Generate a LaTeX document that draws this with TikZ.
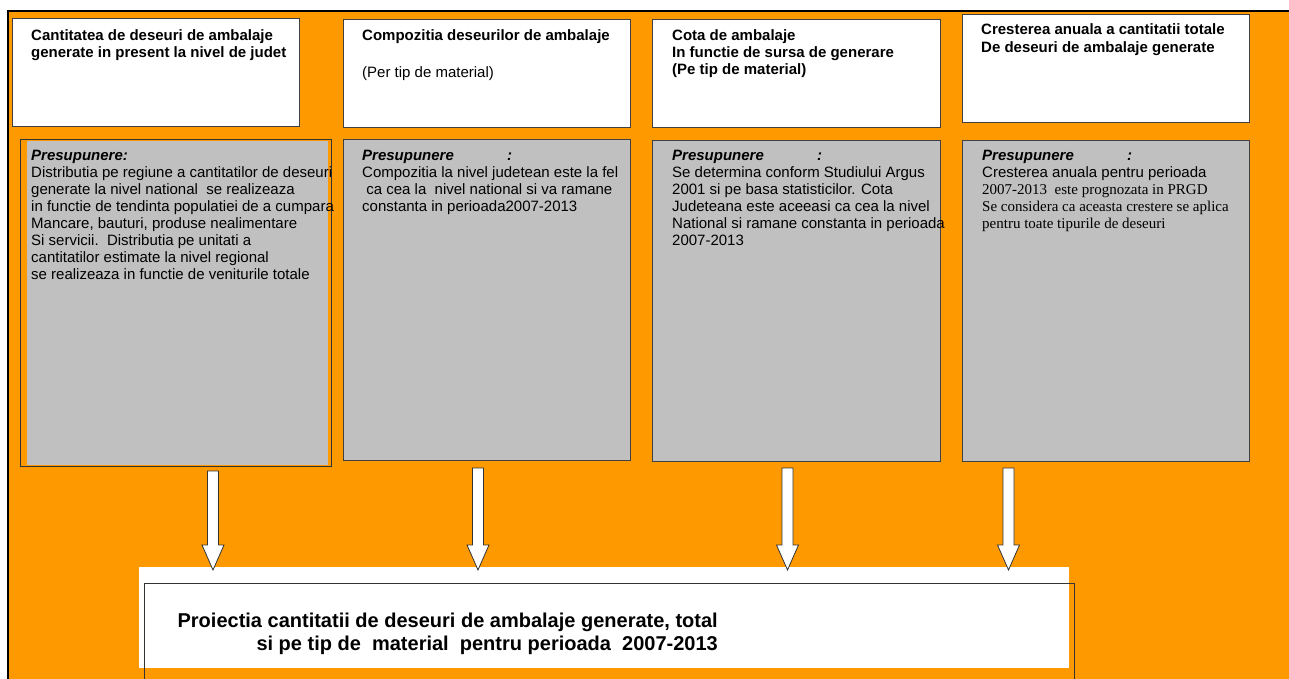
\documentclass[tikz,border=0pt]{standalone}
\usepackage{fontspec}
\setmainfont{Liberation Sans}
\newfontfamily\timesfont{Liberation Serif}
\usepackage{xcolor}
\usepackage{tikz}
\usetikzlibrary{calc}
\definecolor{chartorange}{HTML}{FF9900}
\definecolor{notegray}{HTML}{C0C0C0}
\tikzset{
    chart/.style={font=\fontsize{15}{17}\selectfont},
    chart box/.style={draw=black!75, line width=1pt, anchor=north west,
        inner sep=0pt, outer sep=0pt},
    chart text/.style={anchor=north west, align=left, inner sep=0pt},
    block arrow/.style={draw=black!80, fill=white, line width=0.8pt, line join=miter},
}
\begin{document}
\begin{tikzpicture}[
    chart, x=1pt, y=-1pt,
    head/.style={chart box, fill=white, minimum height=108pt},
    note/.style={chart box, fill=notegray, minimum height=320pt},
    headtext/.style={chart text, font=\fontsize{15}{17}\selectfont\bfseries},
  ]
    \useasboundingbox (0,0) rectangle (1289,679);
    \fill[chartorange] (8,11) rectangle (1289,679);
    \draw[line width=1.2pt] (8,679) -- (8,11) -- (1289,11);

    % top row: what goes into the projection
    \node[head, minimum width=287pt] (head1) at (12,19) {};
    \node[head, minimum width=287pt] (head2) at (343,20) {};
    \node[head, minimum width=288pt] (head3) at (652,20) {};
    \node[head, minimum width=287pt] (head4) at (962,15) {};
    \node[headtext] (head1txt) at (31,29) {Cantitatea de deseuri de ambalaje\\generate in present la nivel de judet};
    \node[headtext] (head2txt) at (362,29) {Compozitia deseurilor de ambalaje\\[20pt]\mdseries(Per tip de material)};
    \node[headtext] (head3txt) at (672,29) {Cota de ambalaje\\In functie de sursa de generare\\(Pe tip de material)};
    \node[headtext] (head4txt) at (981,23) {Cresterea anuala a cantitatii totale\\[1pt]De deseuri de ambalaje generate};

    % assumptions
    \draw[draw=black!80, line width=1pt] (20,140) rectangle (331,466);
    \node[chart box, draw=none, fill=notegray, minimum width=301pt, minimum height=324pt] (note1) at (27,141) {};
    \node[note, minimum width=287pt] (note2) at (343,140) {};
    \node[note, minimum width=288pt] (note3) at (652,141) {};
    \node[note, minimum width=287pt] (note4) at (962,141) {};

    \node[chart text] (note1txt) at (31,150) {\textbf{\textit{Presupunere:}}\\
      Distributia pe regiune a cantitatilor de deseuri\\
      generate la nivel national\ \ se realizeaza\\
      in functie de tendinta populatiei de a cumpara\\
      Mancare, bauturi, produse nealimentare\\
      Si servicii.\ \ Distributia pe unitati a\\
      cantitatilor estimate la nivel regional\\
      se realizeaza in functie de veniturile totale};
    \node[chart text] (note2txt) at (362,150) {\makebox[145pt][l]{\textbf{\textit{Presupunere}}}\textbf{\textit{:}}\\
      Compozitia la nivel judetean este la fel\\
      \ ca cea la\ \ nivel national si va ramane\\
      constanta in perioada2007-2013};
    \node[chart text] (note3txt) at (672,150) {\makebox[145pt][l]{\textbf{\textit{Presupunere}}}\textbf{\textit{:}}\\
      Se determina conform Studiului Argus\\
      2001 si pe basa statisticilor. Cota\\
      Judeteana este aceeasi ca cea la nivel\\
      National si ramane constanta in perioada\\
      2007-2013};
    \node[chart text] (note4txt) at (982,150) {\makebox[145pt][l]{\textbf{\textit{Presupunere}}}\textbf{\textit{:}}\\
      Cresterea anuala pentru perioada\\
      {\timesfont 2007-2013\ \ este prognozata in PRGD}\\
      {\timesfont Se considera ca aceasta crestere se aplica}\\
      {\timesfont pentru toate tipurile de deseuri}};

    % result
    \fill[white] (139,567) rectangle (1069,668);
    \draw[black!80, line width=0.8pt] (144,690) -- (144,583) -- (1074,583) -- (1074,690);
    \node[chart text, anchor=north east, align=right,
      font=\fontsize{20}{23}\selectfont\bfseries] (result) at (718,613)
      {Proiectia cantitatii de deseuri de ambalaje generate, total\\
       si pe tip de\ \ material\ \ pentru perioada\ \ 2007-2013};

    % block arrows down to the result
    \foreach \i/\ax/\ay in {1/213/471, 2/478/468, 3/787.5/468, 4/1008.5/468} {
      \coordinate (from\i) at (\ax,\ay);
      \coordinate (to\i) at (\ax,570);
      \draw[block arrow] ($(from\i)+(-5.5,0)$) -- ($(to\i)+(-5.5,-25)$)
        -- ($(to\i)+(-11,-25)$) -- (to\i) -- ($(to\i)+(11,-25)$)
        -- ($(to\i)+(5.5,-25)$) -- ($(from\i)+(5.5,0)$) -- cycle;
    }
  \end{tikzpicture}
\end{document}
